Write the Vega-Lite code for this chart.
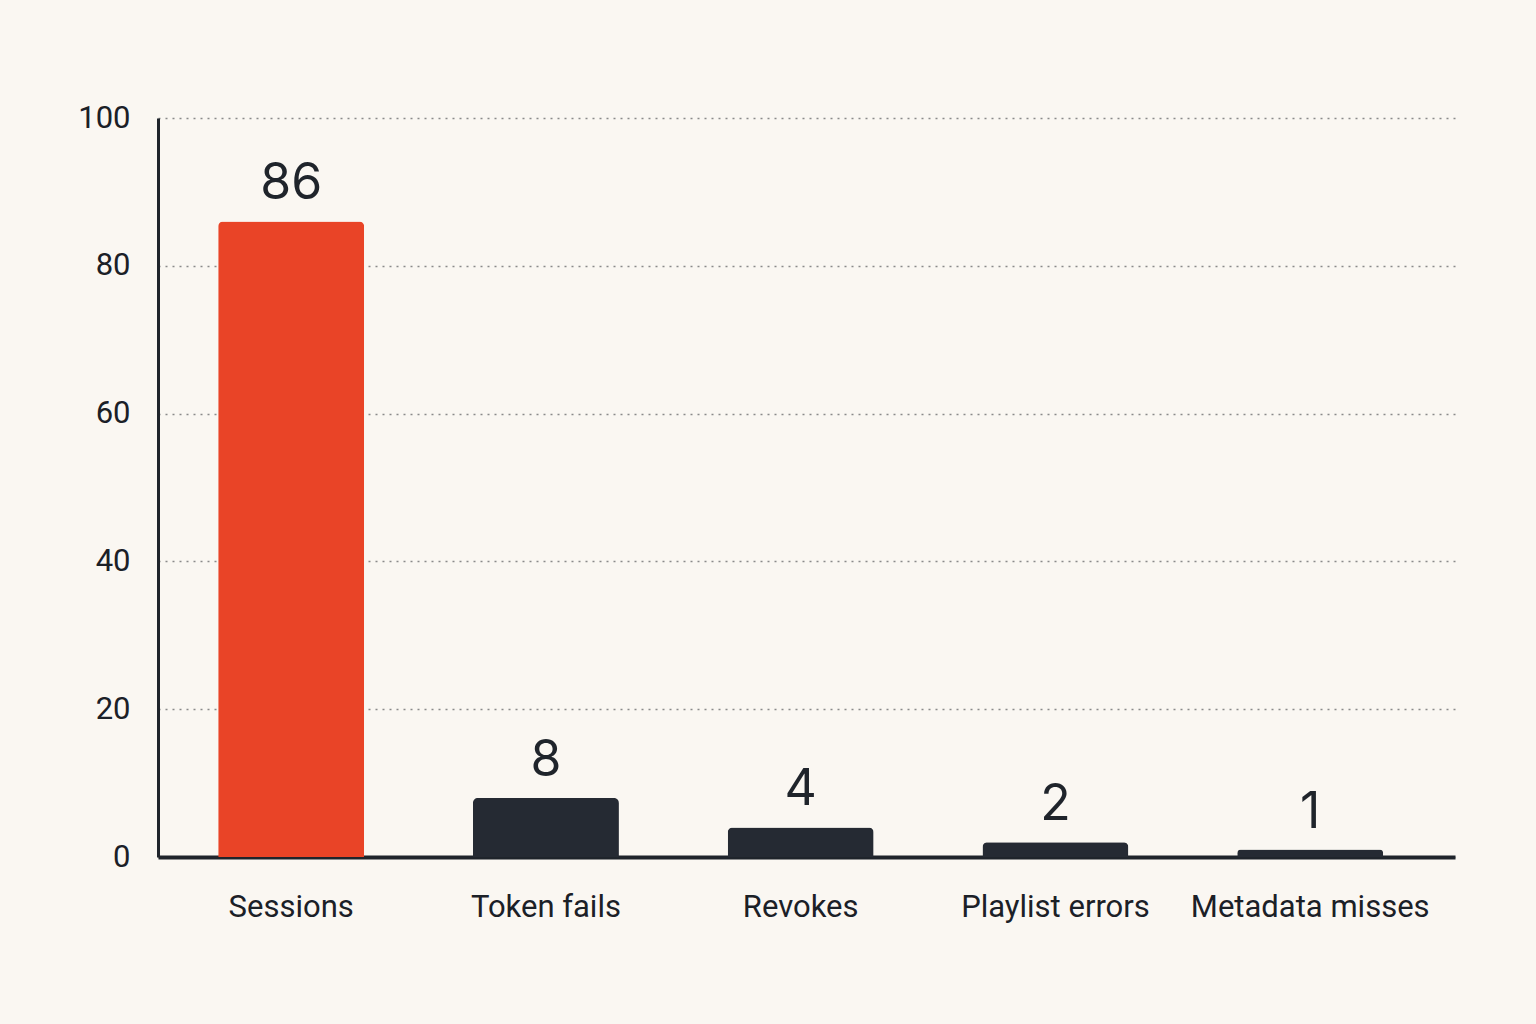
{
  "$schema": "https://vega.github.io/schema/vega-lite/v6.json",
  "width": 1297,
  "height": 739,
  "autosize": {"type": "none"},
  "padding": {"left": 158, "top": 118, "right": 81, "bottom": 167},
  "background": "#FAF7F2",
  "config": {
    "view": {"stroke": null},
    "font": "Roboto"
  },
  "data": {
    "values": [
      {"category": "Sessions", "count": 86, "highlight": "yes"},
      {"category": "Token fails", "count": 8, "highlight": "no"},
      {"category": "Revokes", "count": 4, "highlight": "no"},
      {"category": "Playlist errors", "count": 2, "highlight": "no"},
      {"category": "Metadata misses", "count": 1, "highlight": "no"}
    ]
  },
  "encoding": {
    "x": {
      "field": "category",
      "type": "nominal",
      "sort": null,
      "scale": {"paddingInner": 0.427, "paddingOuter": 0.259, "align": 0.456},
      "axis": {
        "title": null,
        "labelAngle": 0,
        "labelLimit": 0,
        "labelFont": "Roboto",
        "labelFontSize": 31,
        "labelFontWeight": 400,
        "labelColor": "#1B2027",
        "labelPadding": 35,
        "ticks": false,
        "domain": true,
        "domainColor": "#1F242B",
        "domainWidth": 4,
        "grid": false
      }
    },
    "y": {
      "field": "count",
      "type": "quantitative",
      "scale": {"domain": [0, 100]},
      "axis": {
        "title": null,
        "values": [0, 20, 40, 60, 80, 100],
        "labelFont": "Roboto",
        "labelFontSize": 31,
        "labelFontWeight": 400,
        "labelColor": "#1B2027",
        "labelPadding": 28,
        "ticks": false,
        "domain": true,
        "domainColor": "#1F242B",
        "domainWidth": 3,
        "grid": true,
        "gridColor": "#8A8A8A",
        "gridDash": [2, 5],
        "gridWidth": 1.5
      }
    }
  },
  "layer": [
    {
      "mark": {"type": "bar", "cornerRadiusTopLeft": 5, "cornerRadiusTopRight": 5},
      "encoding": {
        "color": {
          "field": "highlight",
          "type": "nominal",
          "scale": {"domain": ["yes", "no"], "range": ["#E94427", "#252A33"]},
          "legend": null
        }
      }
    },
    {
      "mark": {"type": "text", "baseline": "alphabetic", "dy": -22, "fontSize": 50, "font": "Inter", "color": "#1F242B"},
      "encoding": {
        "text": {"field": "count", "type": "quantitative"}
      }
    }
  ]
}
